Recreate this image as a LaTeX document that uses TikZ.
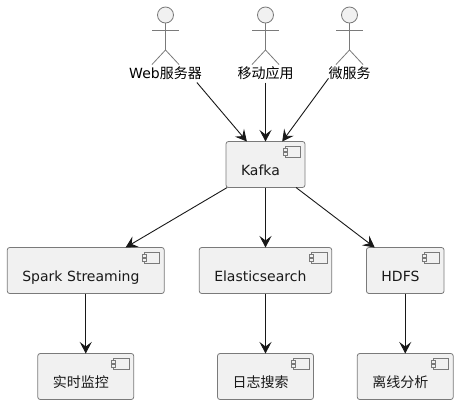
\documentclass[tikz,border=0pt]{standalone}
\usepackage{fontspec}
\setmainfont{DejaVu Sans}
\newfontfamily\cjk{Noto Sans CJK SC}
\usepackage{xcolor}
\definecolor{boxfill}{HTML}{F1F1F1}
\definecolor{boxline}{gray}{0.48}
\definecolor{linkline}{HTML}{181818}
\usetikzlibrary{arrows.meta,positioning}

\begin{document}
\begin{tikzpicture}[
    x=1pt, y=1pt,
    component/.style={rectangle, draw=boxline, line width=0.8pt, rounded corners=2.5pt, fill=boxfill, text width=#1, align=left, inner xsep=15pt, inner ysep=0pt, outer sep=0pt, text height=34pt, text depth=12pt, font=\fontsize{14}{16}\selectfont, text=black!90},
    tinybox/.style={draw=boxline, line width=0.6pt, fill=boxfill},
    head/.style={circle, draw=boxline, line width=0.8pt, fill=boxfill, minimum size=16pt, inner sep=0pt, outer sep=0pt},
    stick/.style={draw=boxline, line width=0.8pt},
    actorname/.style={inner sep=0pt, outer sep=0pt, text height=14pt, text depth=4pt, font=\fontsize{14}{16}\selectfont},
    line/.style={draw=linkline, line width=0.9pt, -{Stealth[length=11.5pt, width=12pt, inset=4.5pt]}}
  ]
    \useasboundingbox (0,0) rectangle (458,-405);

    % Nodes - central broker and the three consumers
    \node [component=49pt] (kafka) at (265.5,-164.5) {Kafka};
    \node [component=102.5pt, below=60pt of kafka] (es) {Elasticsearch};
    \node [component=127pt, left=35pt of es] (spark) {Spark Streaming};
    \node [component=47.6pt, right=34.7pt of es] (hdfs) {HDFS};

    % Nodes - final stage
    \node [component=66pt, below=60pt of spark] (monitor) {\cjk 实时监控};
    \node [component=66pt, below=60pt of es] (search) {\cjk 日志搜索};
    \node [component=66pt, below=60pt of hdfs] (offline) {\cjk 离线分析};

    % Nodes - actors
    \node [head, above=118.5pt of kafka] (mobilehead) {};
    \node [head, left=84pt of mobilehead] (webhead) {};
    \node [head, right=68pt of mobilehead] (microhead) {};
    \node [actorname, below=41.5pt of webhead] (web) {Web{\cjk 服务器}};
    \node [actorname, below=41.5pt of mobilehead] (mobile) {\cjk 移动应用};
    \node [actorname, below=41.5pt of microhead] (micro) {\cjk 微服务};

    % Stick figures
    \foreach \who in {webhead, mobilehead, microhead} {
      \path [stick] (\who.south) -- ++(0,-27) -- ++(-13.5,-14.5);
      \path [stick] (\who.south) ++(0,-27) -- ++(13.5,-14.5);
      \path [stick] (\who.south) ++(-13.5,-7.5) -- ++(27,0);
    }

    % Component icons
    \foreach \comp in {kafka, spark, es, hdfs, monitor, search, offline} {
      \draw [tinybox] (\comp.north east) ++(-20,-5) rectangle ++(15.5,-10.5);
      \draw [tinybox] (\comp.north east) ++(-22,-7) rectangle ++(4,-3);
      \draw [tinybox] (\comp.north east) ++(-22,-11) rectangle ++(4,-3);
    }

    % Paths into Kafka
    \path [line] (web.-16) -- (kafka.129);
    \path [line] (mobile.south) -- (kafka.north);
    \path [line] (micro.193) -- (kafka.54);

    % Paths out of Kafka
    \path [line] (kafka.-149) -- (spark.30);
    \path [line] (kafka.south) -- (es.north);
    \path [line] (kafka.-37) -- (hdfs.143);

    % Final stage paths
    \path [line] (spark) -- (monitor);
    \path [line] (es) -- (search);
    \path [line] (hdfs) -- (offline);

\end{tikzpicture}
\end{document}
